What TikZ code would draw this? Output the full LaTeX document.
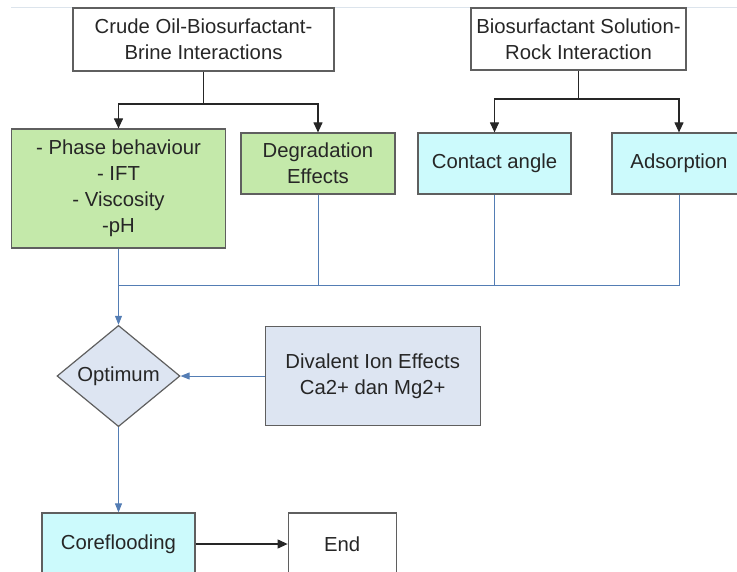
\documentclass[tikz,border=0pt]{standalone}
\usepackage{fontspec}
\setmainfont{Liberation Sans}
\usepackage{xcolor}
\usepackage{tikz}
\usetikzlibrary{positioning, arrows.meta, shapes.geometric}

\definecolor{boxgreen}{RGB}{196,233,170}
\definecolor{boxcyan}{RGB}{204,250,252}
\definecolor{boxgrey}{RGB}{221,229,242}
\definecolor{linkblue}{RGB}{84,125,180}
\definecolor{edgegrey}{RGB}{95,95,95}
\definecolor{pagerule}{RGB}{220,228,236}

\begin{document}
\begin{tikzpicture}[x=1pt, y=-1pt,
  box/.style={draw=edgegrey, line width=1.2pt, rectangle, align=center, inner sep=0pt,
    text=black!85, font=\fontsize{20.3}{26}\selectfont},
  tree/.style={draw=black!85, line width=1.1pt},
  link/.style={draw=linkblue, line width=0.9pt},
  tip/.style={-{Triangle[length=10pt, width=9pt]}},
  bluetip/.style={-{Triangle[length=9pt, width=7pt]}}]
\useasboundingbox (0,0) rectangle (737,571);
\draw[pagerule, line width=1pt] (11,7) -- (737,7);

% top level
\node[box, minimum width=261pt, minimum height=63pt] (crude) at (203.5,39.5) {Crude Oil-Biosurfactant-\\Brine Interactions};
\node[box, minimum width=215pt, minimum height=62pt] (rock) at (578.5,39) {Biosurfactant Solution-\\Rock Interaction};

% tests
\node[box, fill=boxgreen, minimum width=214pt, minimum height=119pt] (phase) at (118.5,188.5) {- Phase behaviour\\- IFT\\- Viscosity\\-pH};
\node[box, fill=boxgreen, minimum width=154pt, minimum height=61pt] (degr) at (318,163.5) {Degradation\\Effects};
\node[box, fill=boxcyan, minimum width=153pt, minimum height=61pt] (contact) at (494.5,163.5) {Contact angle};
\node[box, fill=boxcyan, minimum width=134pt, minimum height=61pt] (adsorp) at (679,163.5) {Adsorption};

% decision
\node[box, diamond, fill=boxgrey, minimum width=123pt, minimum height=98pt] (optimum) at (118.5,376) {Optimum};
\node[box, fill=boxgrey, minimum width=215pt, minimum height=99pt, right=84pt of optimum] (ions) {Divalent Ion Effects\\Ca2+ dan Mg2+};

\node[box, fill=boxcyan, minimum width=153pt, minimum height=62pt] (core) at (118.5,544) {Coreflooding};
\node[box, minimum width=108pt, minimum height=62pt, right=92pt of core] (end) {End};

\coordinate (crudefork) at (203.5,104);
\coordinate (rockfork) at (578.5,99);
\coordinate (merge) at (118.5,285);

\draw[tree] (crude.south) -- (crudefork);
\draw[tree, tip] (crudefork) -| (phase.north);
\draw[tree, tip] (crudefork) -| (degr.north);
\draw[tree] (rock.south) -- (rockfork);
\draw[tree, tip] (rockfork) -| (contact.north);
\draw[tree, tip] (rockfork) -| (adsorp.north);

\draw[link] (degr.south) |- (merge);
\draw[link] (contact.south) |- (merge);
\draw[link] (adsorp.south) |- (merge);
\draw[link, bluetip] (phase.south) -- (optimum.north);
\draw[link, bluetip] (ions.west) -- (optimum.east);
\draw[link, bluetip] (optimum.south) -- (core.north);
\draw[tree, tip] (core.east) -- (end.west);
\end{tikzpicture}
\end{document}
